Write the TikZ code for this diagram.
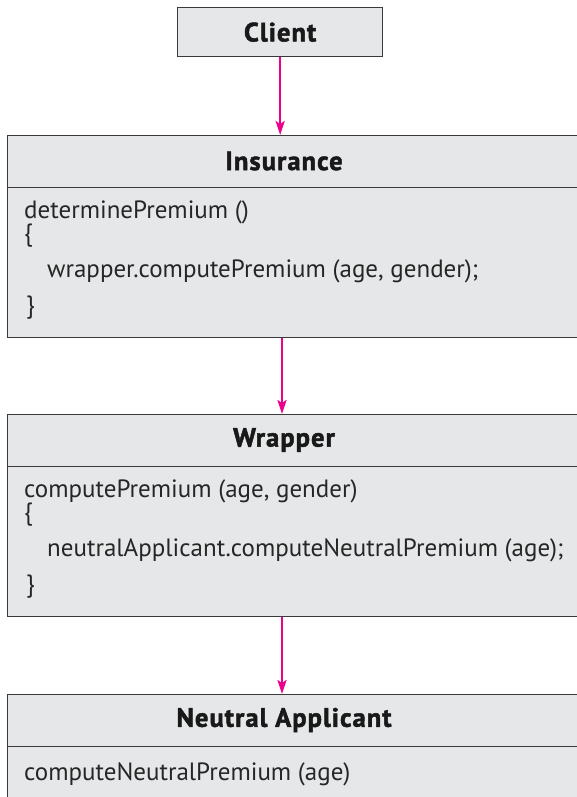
\documentclass[tikz,border=0pt]{standalone}
\usepackage{fontspec}
\setmainfont{PT Sans}
\newfontfamily\titlefont{PT Sans}[BoldFeatures={FakeBold=1.8,LetterSpace=4}]
\usetikzlibrary{arrows.meta}
\definecolor{boxfill}{HTML}{E6E7E8}
\definecolor{boxline}{HTML}{3A3A3C}
\definecolor{flowcol}{HTML}{EC008C}
\begin{document}
\begin{tikzpicture}[x=1pt,y=-1pt,
  part/.style={draw=boxline, fill=boxfill, line width=1.3pt, rectangle, inner sep=0pt, anchor=north west},
  title/.style={font=\fontsize{26.5}{30}\titlefont\bfseries, text=black!90, inner sep=0pt, anchor=center},
  code/.style={font=\fontsize{25}{29}\selectfont, text=black!85, inner sep=0pt, anchor=base west},
  flow/.style={draw=flowcol, line width=2.3pt, -{Stealth[length=14pt,width=9pt,inset=3pt]}}
]
\clip (0,0) rectangle (577,797);
\fill[white] (0,0) rectangle (577,797);
\coordinate (ax) at (282,0);
% Client
\node[part, minimum width=205pt, minimum height=49pt] (client) at (177,7) {};
\node[title] (clientt) at (client.center) {Client};
% Insurance
\node[part, minimum width=620pt, minimum height=52pt] (inshead) at (7,135) {};
\node[part, minimum width=620pt, minimum height=150pt] (insbody) at (7,187) {};
\node[title] (inst) at (284,161) {Insurance};
\node[code] (ins1) at (24,218) {determinePremium ()};
\node[code] (ins2) at (24,241) {\{};
\node[code] (ins3) at (47,277) {wrapper.computePremium (age, gender);};
\node[code] (ins4) at (26,313) {\}};
% Wrapper
\node[part, minimum width=620pt, minimum height=52pt] (wraphead) at (7,414) {};
\node[part, minimum width=620pt, minimum height=150pt] (wrapbody) at (7,466) {};
\node[title] (wrapt) at (284,440) {Wrapper};
\node[code] (wr1) at (24,497) {computePremium (age, gender)};
\node[code] (wr2) at (24,520) {\{};
\node[code] (wr3) at (47,556) {neutralApplicant.computeNeutralPremium (age);};
\node[code] (wr4) at (26,592) {\}};
% Neutral Applicant
\node[part, minimum width=620pt, minimum height=52pt] (nahead) at (7,694) {};
\node[part, minimum width=620pt, minimum height=150pt] (nabody) at (7,746) {};
\node[title] (nat) at (284,720) {Neutral Applicant};
\node[code] (na1) at (24,780) {computeNeutralPremium (age)};
% connectors
\draw[flow] (client.south) -- (client.south |- inshead.north);
\draw[flow] (insbody.south -| ax) -- (wraphead.north -| ax);
\draw[flow] (wrapbody.south -| ax) -- (nahead.north -| ax);
\end{tikzpicture}
\end{document}
